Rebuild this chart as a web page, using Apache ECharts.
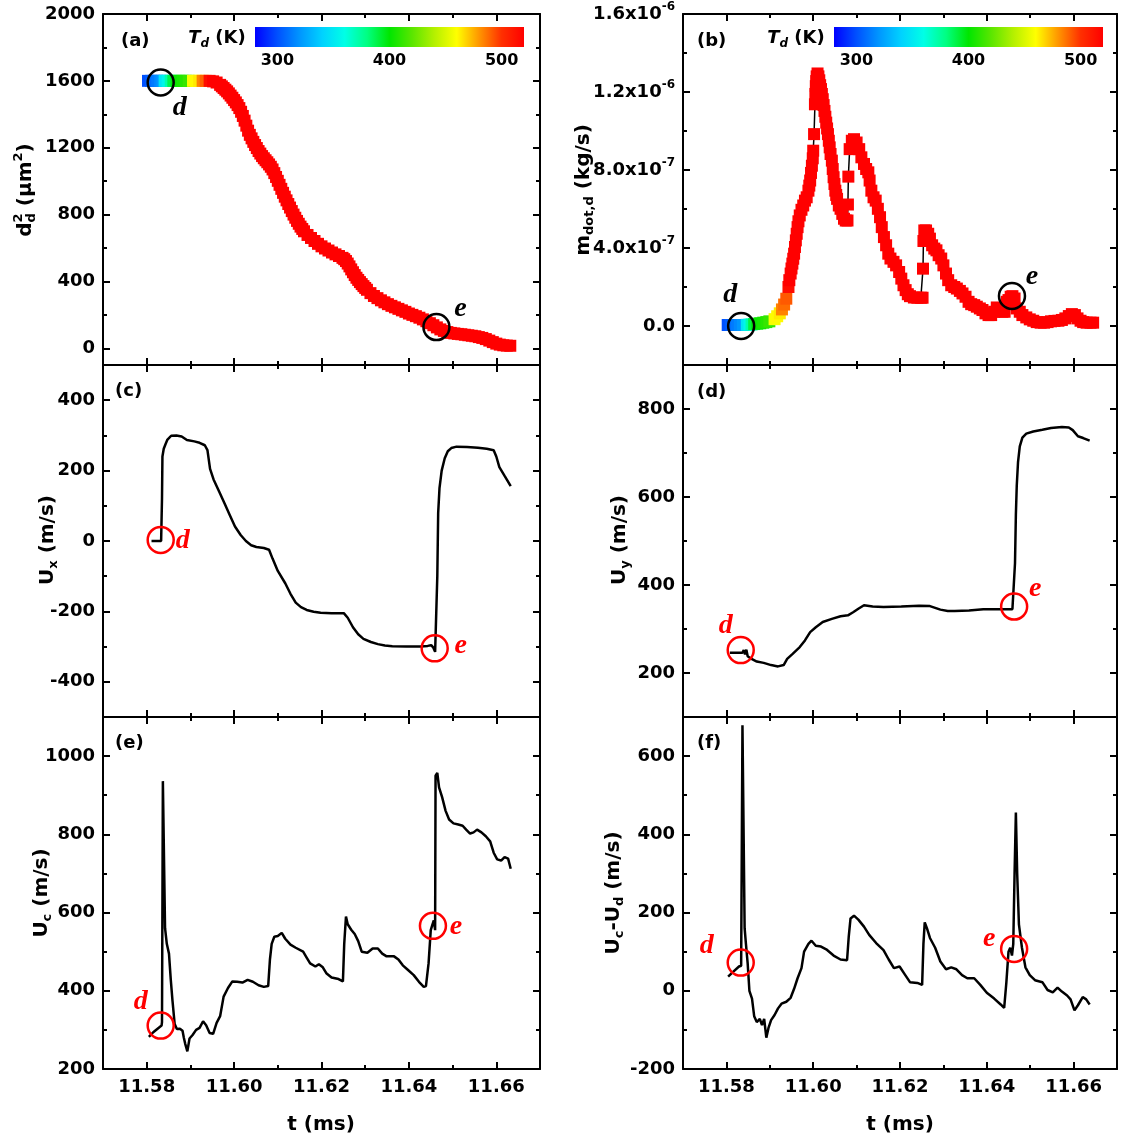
<!DOCTYPE html>
<html><head><meta charset="utf-8">
<script src="https://cdn.jsdelivr.net/npm/echarts@6/dist/echarts.min.js"></script>
<style>html,body{margin:0;padding:0;background:#fff}#c{width:1122px;height:1144px}</style>
</head><body><div id="c"></div>
<script>
// ---------------- DATA ----------------
const X_MIN = 11.57, X_MAX = 11.67;
const X_MAJOR = [11.58, 11.60, 11.62, 11.64, 11.66];
const X_MINOR = [11.59, 11.61, 11.63, 11.65];

// Td colour scale (K)
const TD_MIN = 280, TD_MAX = 520;
const TD_COLORS = ['#0000ff','#0050ff','#0096ff','#00d2ff','#00ffe6','#00ff82','#00e600','#5ae600','#b4f000','#ffff00','#ff9600','#ff3000','#ff0000'];
const TD_TICKS = [300, 400, 500];

// (a) droplet diameter squared: rows of [t (ms), d^2 (um^2), Td (K)]
const pointsA = [
[11.5803,1600,300],[11.5810,1600,304],[11.5817,1600,308],[11.5824,1600,312],[11.5831,1600,316],[11.5836,1600,320],
[11.5841,1600,348],[11.5848,1600,355],[11.5855,1600,372],[11.5861,1600,388],[11.5868,1600,398],[11.5875,1600,402],
[11.5882,1600,405],[11.5889,1600,408],[11.5896,1600,412],[11.5906,1600,458],[11.5913,1600,461],[11.5920,1600,464],
[11.5928,1600,484],[11.5935,1600,490],
[11.5944,1600,515],[11.5952,1597,520],[11.5960,1590,520],[11.5968,1576,520],[11.5972,1567,520],[11.5976,1557,520],
[11.5980,1547,520],[11.5984,1537,520],[11.5988,1525,520],[11.5992,1512,520],[11.5996,1499,520],[11.6000,1485,520],
[11.6004,1471,520],[11.6008,1455,520],[11.6012,1437,520],[11.6016,1415,520],[11.6020,1390,520],[11.6024,1362,520],
[11.6028,1332,520],[11.6032,1302,520],[11.6036,1277,520],[11.6040,1256,520],[11.6044,1235,520],[11.6048,1216,520],
[11.6052,1198,520],[11.6056,1180,520],[11.6060,1165,520],[11.6064,1150,520],[11.6068,1137,520],[11.6072,1125,520],
[11.6076,1113,520],[11.6080,1100,520],[11.6084,1086,520],[11.6088,1070,520],[11.6092,1048,520],[11.6096,1025,520],
[11.6100,1002,520],[11.6104,978,520],[11.6108,954,520],[11.6112,930,520],[11.6116,907,520],[11.6120,885,520],
[11.6124,863,520],[11.6128,842,520],[11.6132,821,520],[11.6136,800,520],[11.6140,781,520],[11.6144,762,520],
[11.6148,745,520],[11.6152,728,520],[11.6156,714,520],[11.6160,700,520],[11.6168,678,520],[11.6176,660,520],
[11.6184,642,520],[11.6192,625,520],[11.6200,610,520],[11.6208,597,520],[11.6216,585,520],[11.6224,573,520],
[11.6232,562,520],[11.6240,552,520],[11.6248,541,520],[11.6252,533,520],[11.6256,522,520],[11.6260,507,520],
[11.6264,490,520],[11.6268,472,520],[11.6272,455,520],[11.6276,438,520],[11.6280,422,520],[11.6284,409,520],
[11.6288,396,520],[11.6292,384,520],[11.6296,372,520],[11.6300,361,520],[11.6304,350,520],[11.6312,330,520],
[11.6320,313,520],[11.6328,300,520],[11.6336,287,520],[11.6344,275,520],[11.6352,264,520],[11.6360,254,520],
[11.6368,245,520],[11.6376,236,520],[11.6384,227,520],[11.6392,218,520],[11.6400,208,520],[11.6408,200,520],
[11.6416,192,520],[11.6424,183,520],[11.6432,173,520],[11.6440,162,520],[11.6448,150,520],[11.6456,138,520],
[11.6464,125,520],[11.6472,113,520],[11.6480,104,520],[11.6488,97,520],[11.6496,92,520],[11.6504,89,520],
[11.6512,86,520],[11.6520,84,520],[11.6528,81,520],[11.6536,78,520],[11.6544,75,520],[11.6552,72,520],
[11.6560,67,520],[11.6568,62,520],[11.6576,55,520],[11.6584,46,520],[11.6592,37,520],[11.6600,28,520],
[11.6608,22,520],[11.6616,18,520],[11.6624,16,520],[11.6632,15,520]];

// (b) droplet evaporation rate, in units of 1e-7 kg/s
const tB = [11.5803,11.5810,11.5817,11.5824,11.5831,11.5838,11.5847,11.5853,11.5858,11.5864,11.5871,11.5878,11.5885,11.5892,11.5899,11.5911,11.5917,11.5923,11.5928,11.5933,11.5938,
11.5943,11.5945,11.5948,11.5950,11.5952,11.5954,11.5956,11.5958,11.5960,11.5962,11.5964,11.5966,11.5969,11.5973,11.5977,11.5981,11.5985,11.5989,11.5991,11.5993,
11.5995,11.5997,11.5999,11.6000,11.6002,11.6004,11.6005,11.6006,11.6007,11.6008,11.6010,11.6012,11.6014,11.6016,11.6018,11.6020,11.6022,11.6024,11.6026,11.6028,
11.6030,11.6032,11.6034,11.6036,11.6038,11.6040,11.6043,11.6045,11.6047,11.6049,11.6051,11.6053,11.6055,11.6059,11.6063,11.6067,11.6071,11.6075,11.6079,11.6080,
11.6081,11.6084,11.6089,11.6094,11.6100,11.6106,11.6111,11.6117,11.6122,11.6127,11.6130,11.6134,11.6139,11.6144,11.6149,11.6154,11.6158,11.6163,11.6168,11.6173,
11.6178,11.6185,11.6191,11.6198,11.6203,11.6208,11.6213,11.6218,11.6223,11.6232,11.6240,11.6248,11.6252,11.6253,11.6254,11.6256,11.6260,11.6265,11.6269,11.6274,
11.6279,11.6284,11.6289,11.6295,11.6300,11.6306,11.6311,11.6318,11.6325,11.6331,11.6338,11.6344,11.6351,11.6358,11.6364,11.6371,11.6377,11.6384,11.6390,11.6397,
11.6404,11.6410,11.6417,11.6423,11.6430,11.6436,11.6441,11.6446,11.6450,11.6455,11.6459,11.6464,11.6469,11.6476,11.6482,11.6491,11.6499,11.6507,11.6515,11.6524,
11.6532,11.6540,11.6548,11.6556,11.6565,11.6573,11.6581,11.6589,11.6596,11.6603,11.6609,11.6616,11.6622,11.6630,11.6639,11.6645];
const mdotB = [0.05,0.05,0.05,0.05,0.05,0.05,0.06,0.07,0.08,0.10,0.12,0.14,0.17,0.20,0.24,0.35,0.50,0.65,0.85,1.10,1.40,
2.00,2.35,2.69,2.95,3.20,3.45,3.71,4.05,4.39,4.73,5.07,5.37,5.67,5.96,6.18,6.43,6.60,6.94,7.20,7.46,
7.85,8.22,8.60,8.99,9.84,11.37,11.90,12.30,12.56,12.80,12.95,12.80,12.60,12.35,12.15,11.90,11.63,11.33,11.03,10.73,
10.43,10.13,9.84,9.50,9.16,8.82,8.48,8.05,7.63,7.28,6.94,6.72,6.52,6.18,6.01,5.75,5.50,5.41,5.41,6.23,
7.66,9.07,9.50,9.58,9.41,9.07,8.65,8.31,8.05,7.88,7.46,6.94,6.60,6.43,6.01,5.58,5.07,4.56,4.14,3.71,
3.46,3.29,3.11,2.77,2.43,2.09,1.84,1.63,1.53,1.46,1.45,1.45,1.45,2.94,4.36,4.90,4.90,4.73,4.48,4.14,
3.97,3.88,3.63,3.46,3.11,2.69,2.35,2.09,2.00,1.92,1.80,1.67,1.50,1.24,1.12,1.07,0.99,0.90,0.82,0.65,
0.56,0.56,0.73,0.95,0.90,0.73,0.73,1.24,1.33,1.50,1.53,1.41,0.90,0.73,0.56,0.44,0.34,0.27,0.20,0.17,
0.17,0.20,0.24,0.26,0.27,0.31,0.39,0.51,0.61,0.56,0.39,0.27,0.20,0.17,0.17,0.17];
const tdB = [300,304,308,312,316,320,348,356,372,390,398,402,405,408,412,458,461,464,484,488,492,
515,520,520,520,520,520,520,520,520,520,520,520,520,520,520,520,520,520,520,520,
520,520,520,520,520,520,520,520,520,520,520,520,520,520,520,520,520,520,520,520,
520,520,520,520,520,520,520,520,520,520,520,520,520,520,520,520,520,520,520,520,
520,520,520,520,520,520,520,520,520,520,520,520,520,520,520,520,520,520,520,520,
520,520,520,520,520,520,520,520,520,520,520,520,520,520,520,520,520,520,520,520,
520,520,520,520,520,520,520,520,520,520,520,520,520,520,520,520,520,520,520,520,
520,520,520,520,520,520,520,520,520,520,520,520,520,520,520,520,520,520,520,520,
520,520,520,520,520,520,520,520,520,520,520,520,520,520,520,520];

// (c) Ux (m/s)
const tC = [11.5811,11.5823,11.5833,11.5834,11.5835,11.5836,11.5839,11.5843,11.5847,11.5856,11.5868,11.5880,11.5892,11.5909,11.5921,11.5933,11.5939,11.5945,11.5953,11.5966,
11.5978,11.5990,11.6002,11.6015,11.6027,11.6039,11.6051,11.6068,11.6080,11.6088,11.6100,11.6117,11.6129,11.6141,11.6153,11.6166,11.6182,11.6198,11.6223,11.6251,
11.6260,11.6272,11.6284,11.6296,11.6313,11.6329,11.6345,11.6362,11.6394,11.6427,11.6443,11.6451,11.6456,11.6460,11.6462,11.6465,11.6467,11.6470,11.6475,11.6482,
11.6489,11.6497,11.6509,11.6533,11.6558,11.6578,11.6594,11.6600,11.6607,11.6619,11.6633];
const uxC = [0,0,0,0,120,240,262,275,287,299,300,297,287,283,279,272,258,205,175,140,
107,74,41,17,0,-12,-17,-20,-25,-50,-85,-120,-150,-175,-188,-196,-201,-204,-205,-205,
-218,-245,-265,-278,-287,-293,-297,-299,-300,-300,-298,-296,-303,-315,-310,-100,80,150,200,235,
255,264,268,267,265,262,258,240,210,185,156];

// (d) Uy (m/s)
const tD = [11.5808,11.5825,11.5837,11.5840,11.5843,11.5846,11.5849,11.5858,11.5870,11.5886,11.5903,11.5919,11.5932,11.5940,11.5952,11.5969,11.5981,11.5993,11.6006,11.6022,
11.6043,11.6063,11.6080,11.6092,11.6104,11.6117,11.6137,11.6162,11.6203,11.6244,11.6269,11.6281,11.6293,11.6310,11.6326,11.6359,11.6392,11.6425,11.6459,11.6463,
11.6465,11.6467,11.6469,11.6472,11.6476,11.6482,11.6491,11.6507,11.6528,11.6548,11.6573,11.6589,11.6598,11.6610,11.6622,11.6637];
const uyD = [246,246,246,252,242,253,238,232,226,223,218,215,218,232,243,259,274,293,304,316,
323,329,331,338,346,354,351,350,351,353,352,348,344,341,341,342,345,345,345,348,
450,560,625,680,715,735,744,749,753,757,759,758,752,738,734,728];

// (e) Uc (m/s)
const tE = [11.5805,11.5815,11.5827,11.5834,11.5835,11.5837,11.5838,11.5842,11.5846,11.5851,11.5855,11.5859,11.5864,11.5869,11.5876,11.5882,11.5885,11.5888,11.5893,11.5898,
11.5905,11.5913,11.5921,11.5929,11.5936,11.5944,11.5952,11.5960,11.5968,11.5976,11.5986,11.5996,11.6007,11.6019,11.6031,11.6043,11.6056,11.6068,11.6078,11.6082,
11.6086,11.6092,11.6100,11.6109,11.6117,11.6129,11.6141,11.6158,11.6166,11.6174,11.6186,11.6194,11.6203,11.6211,11.6223,11.6239,11.6249,11.6252,11.6256,11.6260,
11.6268,11.6276,11.6284,11.6292,11.6305,11.6317,11.6329,11.6339,11.6349,11.6366,11.6376,11.6386,11.6398,11.6411,11.6423,11.6434,11.6439,11.6445,11.6450,11.6454,
11.6457,11.6460,11.6461,11.6465,11.6469,11.6476,11.6484,11.6492,11.6502,11.6513,11.6523,11.6531,11.6540,11.6548,11.6556,11.6566,11.6576,11.6586,11.6594,11.6602,
11.6611,11.6619,11.6627,11.6633];
const ucE = [282,294,305,311,320,936,936,560,520,495,430,375,315,302,303,298,280,265,245,278,
287,300,305,322,312,292,290,318,335,385,407,424,423,421,428,423,414,410,412,480,
520,538,540,548,533,518,510,500,485,470,462,468,460,445,434,430,424,520,590,570,
556,545,527,500,497,508,508,495,488,488,480,465,453,440,423,410,412,470,555,570,
580,555,950,957,920,895,860,838,828,825,822,812,802,805,812,805,795,782,753,736,
733,742,738,712];

// (f) Uc - Ud (m/s)
const tF = [11.5804,11.5816,11.5829,11.5834,11.5837,11.5842,11.5845,11.5849,11.5853,11.5859,11.5864,11.5870,11.5877,11.5882,11.5887,11.5892,11.5897,11.5903,11.5911,11.5919,
11.5927,11.5938,11.5948,11.5956,11.5964,11.5973,11.5979,11.5989,11.5996,11.6006,11.6018,11.6030,11.6047,11.6063,11.6078,11.6082,11.6086,11.6094,11.6104,11.6117,
11.6129,11.6145,11.6162,11.6174,11.6186,11.6199,11.6211,11.6223,11.6240,11.6251,11.6254,11.6257,11.6262,11.6269,11.6281,11.6293,11.6306,11.6318,11.6330,11.6343,
11.6355,11.6371,11.6385,11.6400,11.6417,11.6432,11.6440,11.6445,11.6450,11.6454,11.6458,11.6461,11.6464,11.6467,11.6470,11.6474,11.6481,11.6489,11.6499,11.6511,
11.6528,11.6540,11.6552,11.6563,11.6573,11.6585,11.6593,11.6602,11.6610,11.6621,11.6629,11.6637];
const slipF = [36,49,62,64,679,160,120,70,0,-20,-65,-80,-72,-88,-72,-120,-95,-75,-62,-45,
-33,-28,-18,5,32,58,100,120,128,115,113,106,90,80,78,140,185,192,182,164,
143,122,104,80,58,62,42,22,20,15,120,175,160,135,110,75,55,60,55,40,
32,32,15,-5,-20,-35,-44,20,100,110,90,120,300,456,300,170,110,60,40,27,
22,2,-4,8,-2,-12,-22,-50,-37,-16,-22,-35];

// marked instants d and e (circles)
const MARK_NAMES = ['d', 'e'];
const markTA = [11.5832, 11.6463], markVA = [1590, 127];
const markTB = [11.5834, 11.6458], markVB = [0, 1.54];
const markTC = [11.5832, 11.6459], markVC = [3, -305];
const markTD = [11.5833, 11.6463], markVD = [252, 351];
const markTE = [11.5832, 11.6455], markVE = [311, 566];
const markTF = [11.5833, 11.6463], markVF = [72, 107];

// y axis ranges & ticks
const Y_MIN = [-100, -2, -500, 100, 200, -200];
const Y_MAX = [2000, 16, 500, 900, 1100, 700];
const Y_MAJOR = [[0,400,800,1200,1600,2000],[0,4,8,12,16],[-400,-200,0,200,400],[200,400,600,800],[200,400,600,800,1000],[-200,0,200,400,600]];
const Y_MINOR = [[200,600,1000,1400,1800],[2,6,10,14],[-300,-100,100,300],[300,500,700],[300,500,700,900],[-100,100,300,500]];

// ---------------- LAYOUT / STYLE ----------------
const FONT = '"DejaVu Sans", sans-serif';
const SERIF = '"Liberation Serif", "DejaVu Serif", serif';
const RED = '#ff0000';
const GRIDS = [
  {left:103, top:14, width:437, height:351},
  {left:683, top:14, width:434, height:351},
  {left:103, top:365, width:437, height:352},
  {left:683, top:365, width:434, height:352},
  {left:103, top:717, width:437, height:352},
  {left:683, top:717, width:434, height:352}
];

const AXIS_LINE = {show:true, onZero:false, lineStyle:{color:'#000', width:2}};
const NO_LINE = {show:false, onZero:false};
const TICK_STYLE = {color:'#000', width:2};
const LABEL_BASE = {color:'#000', fontFamily:FONT, fontWeight:'bold', fontSize:18};

function fmtB(v) {
  if (v === 0) return '{b|0.0}';
  const s = (v * 1e-7).toExponential(1).split('e');
  return '{b|' + s[0] + 'x10}{s|' + s[1].replace('+','') + '}';
}

const xAxes = [], yAxes = [];
GRIDS.forEach((g, i) => {
  const bottomRow = i >= 4;
  ['bottom','top'].forEach(pos => {
    xAxes.push({type:'value', gridIndex:i, position:pos, min:X_MIN, max:X_MAX,
      axisLine:AXIS_LINE, splitLine:{show:false},
      axisTick:{show:true, inside:true, length:7, lineStyle:TICK_STYLE, customValues:X_MAJOR},
      axisLabel:Object.assign({show: pos === 'bottom' && bottomRow, customValues:X_MAJOR, margin:9,
        formatter: v => v.toFixed(2)}, LABEL_BASE)});
    xAxes.push({type:'value', gridIndex:i, position:pos, min:X_MIN, max:X_MAX,
      axisLine:NO_LINE, splitLine:{show:false},
      axisTick:{show:true, inside:true, length:4, lineStyle:TICK_STYLE, customValues:X_MINOR},
      axisLabel:{show:false}});
  });
  ['left','right'].forEach(pos => {
    const lab = Object.assign({show: pos === 'left', customValues:Y_MAJOR[i], margin:8}, LABEL_BASE);
    if (i === 1) {
      lab.formatter = fmtB;
      lab.rich = {
        b:{fontFamily:FONT, fontWeight:'bold', fontSize:18, color:'#000', lineHeight:26},
        s:{fontFamily:FONT, fontWeight:'bold', fontSize:12, color:'#000', verticalAlign:'top', lineHeight:13}
      };
    } else {
      lab.formatter = v => String(v);
    }
    yAxes.push({type:'value', gridIndex:i, position:pos, min:Y_MIN[i], max:Y_MAX[i],
      axisLine:AXIS_LINE, splitLine:{show:false},
      axisTick:{show:true, inside:true, length:7, lineStyle:TICK_STYLE, customValues:Y_MAJOR[i]},
      axisLabel:lab});
    yAxes.push({type:'value', gridIndex:i, position:pos, min:Y_MIN[i], max:Y_MAX[i],
      axisLine:NO_LINE, splitLine:{show:false},
      axisTick:{show:true, inside:true, length:4, lineStyle:TICK_STYLE, customValues:Y_MINOR[i]},
      axisLabel:{show:false}});
  });
});

function zip(a, b, c) { return a.map((t, k) => c ? [t, b[k], c[k]] : [t, b[k]]); }

function lineSeries(gi, data, width) {
  return {type:'line', xAxisIndex:4*gi, yAxisIndex:4*gi, data:data, showSymbol:false, symbol:'none',
    lineStyle:{color:'#000', width:width}, z:2, silent:true, emphasis:{disabled:true}};
}
function squareSeries(gi, data) {
  return {type:'scatter', xAxisIndex:4*gi, yAxisIndex:4*gi, data:data, symbol:'rect', symbolSize:12,
    itemStyle:{opacity:1}, z:3, silent:true, emphasis:{disabled:true}};
}
function circleSeries(gi, ts, vs, color, offsets) {
  return {type:'scatter', xAxisIndex:4*gi, yAxisIndex:4*gi, symbol:'circle', symbolSize:26, z:5, silent:true,
    emphasis:{disabled:true},
    itemStyle:{color:'rgba(0,0,0,0)', borderColor:color, borderWidth:2.5, opacity:1},
    label:{show:true, position:'inside', formatter:'{b}', color:color, fontFamily:SERIF, fontStyle:'italic',
      fontWeight:'bold', fontSize:28},
    data: ts.map((t, k) => ({name:MARK_NAMES[k], value:[t, vs[k]], label:{offset:offsets[k]}}))};
}

const series = [
  lineSeries(0, pointsA.map(p => [p[0], p[1]]), 1.5),
  squareSeries(0, pointsA),
  circleSeries(0, markTA, markVA, '#000', [[19,25],[24,-18]]),
  lineSeries(1, zip(tB, mdotB), 1.5),
  squareSeries(1, zip(tB, mdotB, tdB)),
  circleSeries(1, markTB, markVB, '#000', [[-11,-31],[20,-19]]),
  lineSeries(2, zip(tC, uxC), 2.5),
  circleSeries(2, markTC, markVC, RED, [[22,1],[26,-3]]),
  lineSeries(3, zip(tD, uyD), 2.5),
  circleSeries(3, markTD, markVD, RED, [[-15,-24],[21,-18]]),
  lineSeries(4, zip(tE, ucE), 2.5),
  circleSeries(4, markTE, markVE, RED, [[-20,-24],[23,1]]),
  lineSeries(5, zip(tF, slipF), 2.5),
  circleSeries(5, markTF, markVF, RED, [[-34,-17],[-25,-10]])
];

// ---------------- GRAPHIC (labels, titles, colour bars) ----------------
const mctx = document.createElement('canvas').getContext('2d');
function fontStr(size, italic) { return (italic ? 'italic ' : '') + 'bold ' + size + 'px ' + FONT; }
function txt(x, y, text, font, align, valign, fill) {
  return {type:'text', x:x, y:y, silent:true,
    style:{text:text, font:font, fill:fill || '#000', align:align, verticalAlign:valign,
      textAlign:align, textVerticalAlign:valign}};
}
function richTitle(cx, cy, pieces, rotated, main, small) {
  main = main || 20; small = small || 13;
  let x = 0; const children = [];
  pieces.forEach(p => {
    const k = p.k || 'n';
    const size = k === 'n' ? main : small;
    const f = fontStr(size, p.it);
    mctx.font = f;
    const w = mctx.measureText(p.t).width;
    const dy = k === 'sub' ? Math.round(main*0.32) : k === 'sup' ? -Math.round(main*0.37) : 0;
    children.push(txt(x, dy, p.t, f, 'left', 'middle'));
    if (!p.stack) x += w;
  });
  children.forEach(c => { c.x -= x / 2; });
  return {type:'group', x:cx, y:cy, rotation: rotated ? Math.PI/2 : 0, silent:true, children:children};
}

const elements = [];
const LETTERS = ['(a)','(b)','(c)','(d)','(e)','(f)'];
const LETTER_POS = [[121,41],[697,41],[115,391],[697,392],[115,743],[697,743]];
LETTERS.forEach((l, i) => elements.push(txt(LETTER_POS[i][0], LETTER_POS[i][1], l, fontStr(18), 'left', 'middle')));

const BAR_X = [255, 834], BAR_W = 269, BAR_Y = 27, BAR_H = 20;
const stops = TD_COLORS.map((c, k) => ({offset: k / (TD_COLORS.length - 1), color: c}));
BAR_X.forEach(bx => {
  elements.push({type:'rect', silent:true, shape:{x:bx, y:BAR_Y, width:BAR_W, height:BAR_H},
    style:{fill:{type:'linear', x:0, y:0, x2:1, y2:0, colorStops:stops}}});
  TD_TICKS.forEach(v => {
    const px = bx + (v - TD_MIN) / (TD_MAX - TD_MIN) * BAR_W;
    elements.push(txt(px, 61, String(v), fontStr(16), 'center', 'middle'));
  });
  elements.push(richTitle(bx - 38, 38, [{t:'T', it:true}, {t:'d', k:'sub', it:true}, {t:' (K)'}], false, 18, 12));
});

elements.push(richTitle(26, 190, [{t:'d'}, {t:'2', k:'sup', stack:true}, {t:'d', k:'sub'}, {t:' (\u03bcm'}, {t:'2', k:'sup'}, {t:')'}], true));
elements.push(richTitle(584, 190, [{t:'m'}, {t:'dot,d', k:'sub'}, {t:' (kg/s)'}], true));
elements.push(richTitle(48, 540, [{t:'U'}, {t:'x', k:'sub'}, {t:' (m/s)'}], true));
elements.push(richTitle(620, 540, [{t:'U'}, {t:'y', k:'sub'}, {t:' (m/s)'}], true));
elements.push(richTitle(42, 893, [{t:'U'}, {t:'c', k:'sub'}, {t:' (m/s)'}], true));
elements.push(richTitle(614, 893, [{t:'U'}, {t:'c', k:'sub'}, {t:'-U'}, {t:'d', k:'sub'}, {t:' (m/s)'}], true));
elements.push(txt(321, 1125, 't (ms)', fontStr(20), 'center', 'middle'));
elements.push(txt(900, 1125, 't (ms)', fontStr(20), 'center', 'middle'));

const option = {
  animation:false,
  backgroundColor:'#fff',
  textStyle:{fontFamily:FONT},
  grid: GRIDS.map(g => Object.assign({containLabel:false, outerBoundsMode:'none', show:false}, g)),
  xAxis: xAxes,
  yAxis: yAxes,
  visualMap: [{type:'continuous', show:false, seriesIndex:[1,4], dimension:2, min:TD_MIN, max:TD_MAX,
    inRange:{color:TD_COLORS}}],
  series: series,
  graphic: {elements: elements}
};

const chart = echarts.init(document.getElementById('c'), null, {renderer:'canvas'});
chart.setOption(option);
</script></body></html>
